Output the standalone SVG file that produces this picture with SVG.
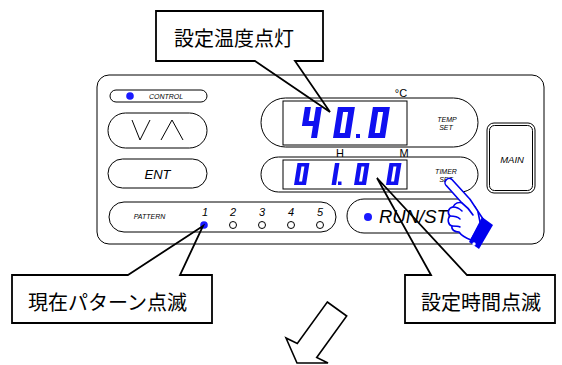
<svg xmlns="http://www.w3.org/2000/svg" xmlns:xlink="http://www.w3.org/1999/xlink" width="562" height="365" viewBox="0 0 562 365">
  <style>
    .ln { fill: none; stroke: #000; stroke-width: 1; }
    .pill { fill: #fff; stroke: #000; stroke-width: 1; }
    .lbl { font-family: "Liberation Sans", Arial, sans-serif; font-style: italic; fill: #000; }
    .plain { font-family: "Liberation Sans", Arial, sans-serif; fill: #000; }
    .jp { font-family: "Noto Sans CJK JP", "Noto Sans", sans-serif; font-size: 20px; fill: #000; }
    .seg { fill: #1010f0; }
    .led { fill: #1a1aff; }
    .callout { fill: none; stroke: #000; stroke-width: 1.8; stroke-linejoin: miter; }
    .hand { fill: #fff; stroke: #0000ee; stroke-width: 1.6; stroke-linejoin: round; stroke-linecap: round; }
  </style>
  <defs>
    <!-- large seven-segment glyphs, origin at bottom-left -->
    <path id="big0" class="seg" fill-rule="evenodd" d="M0,-31H17V0H0Z M6,-26V-5H11V-26Z"/>
    <path id="big4" class="seg" d="M0,-31H6V-14H0Z M0,-17H17V-12H0Z M11,-31H17V0H11Z"/>
    <!-- small seven-segment glyphs -->
    <path id="sm0" class="seg" fill-rule="evenodd" d="M0,-22H12V0H0Z M4.5,-18.5V-3.5H7.5V-18.5Z"/>
    <path id="sm1" class="seg" d="M7.5,-22H12V0H7.5Z"/>
  </defs>

  <rect width="562" height="365" fill="#fff"/>

  <!-- front panel -->
  <g id="panel">
    <rect class="pill" x="97" y="75" width="447" height="169" rx="12"/>
  </g>

  <g id="control">
    <rect class="pill" x="110" y="90" width="97" height="12" rx="6"/>
    <circle class="led" cx="130" cy="96" r="3.8"/>
    <text class="lbl" x="166" y="99" font-size="7" text-anchor="middle">CONTROL</text>
  </g>

  <g id="updown">
    <rect class="pill" x="108" y="113" width="99" height="35" rx="17.5"/>
    <polyline class="ln" stroke-width="1.3" points="132,120 140,140 150,120"/>
    <polyline class="ln" stroke-width="1.3" points="161,140 172,120 183,140"/>
  </g>

  <g id="ent">
    <rect class="pill" x="108" y="159" width="99" height="29" rx="14.5"/>
    <text class="lbl" x="157.5" y="179" font-size="13" text-anchor="middle">ENT</text>
  </g>

  <g id="pattern">
    <rect class="pill" x="109" y="202" width="227" height="30" rx="15"/>
    <text class="lbl" x="149.5" y="219" font-size="7" text-anchor="middle">PATTERN</text>
    <g class="lbl" font-size="11" text-anchor="middle">
      <text x="205" y="216">1</text>
      <text x="233" y="216">2</text>
      <text x="262" y="216">3</text>
      <text x="291" y="216">4</text>
      <text x="320" y="216">5</text>
    </g>
    <circle class="led" cx="204" cy="225" r="3.8"/>
    <circle class="pill" cx="233" cy="225" r="3.5"/>
    <circle class="pill" cx="262" cy="225" r="3.5"/>
    <circle class="pill" cx="291" cy="225" r="3.5"/>
    <circle class="pill" cx="320" cy="225" r="3.5"/>
  </g>

  <g id="temp-display">
    <rect class="pill" x="261" y="98" width="217" height="49" rx="24.5"/>
    <rect class="pill" x="283" y="101" width="124" height="44" stroke-width="1.2"/>
    <use href="#big4" transform="translate(300,138) skewX(-9)"/>
    <use href="#big0" transform="translate(333,138) skewX(-9)"/>
    <rect class="seg" x="356" y="134" width="4" height="4"/>
    <use href="#big0" transform="translate(368,138) skewX(-9)"/>
    <text class="plain" x="401" y="97" font-size="11" text-anchor="middle">°C</text>
    <text class="lbl" x="447" y="121.5" font-size="7" text-anchor="middle">TEMP</text>
    <text class="lbl" x="446" y="129.5" font-size="7" text-anchor="middle">SET</text>
  </g>

  <g id="timer-display">
    <rect class="pill" x="261" y="157" width="217" height="35" rx="17.5"/>
    <rect class="pill" x="283" y="160" width="124" height="29" stroke-width="1.2"/>
    <use href="#sm0" transform="translate(294,185) skewX(-9)"/>
    <use href="#sm1" transform="translate(324,185) skewX(-9)"/>
    <rect class="seg" x="338" y="181.5" width="3.5" height="3.5"/>
    <use href="#sm0" transform="translate(354,185) skewX(-9)"/>
    <use href="#sm0" transform="translate(386,185) skewX(-9)"/>
    <text class="plain" x="340" y="157" font-size="11" text-anchor="middle">H</text>
    <text class="plain" x="404" y="157" font-size="11" text-anchor="middle">M</text>
    <text class="lbl" x="446" y="173.5" font-size="7" text-anchor="middle">TIMER</text>
    <text class="lbl" x="446" y="181.5" font-size="7" text-anchor="middle">SET</text>
  </g>

  <g id="main">
    <rect class="pill" x="487" y="123" width="48" height="70" rx="7"/>
    <rect class="pill" x="489.5" y="125.5" width="43" height="65" rx="5"/>
    <text class="lbl" x="512" y="163" font-size="9.5" text-anchor="middle">MAIN</text>
  </g>

  <g id="runstop">
    <rect class="pill" x="347" y="199" width="131" height="34" rx="17"/>
    <circle class="led" cx="368" cy="217" r="4"/>
    <text class="lbl" x="379" y="223" font-size="18.5">RUN/STOP</text>
  </g>

  <!-- pointing hand pressing TIMER SET -->
  <g id="hand">
    <path class="hand" d="M461.7,202.7 L446.7,186 A3.6,3.6 0 0 1 451.7,179.3 L470,199.3 L483,219 L471,240 C466,238 461,235 459,232 C455,232 451,230 452,226 C448,225 447,219 450,216 C447,213 448,208 453,207 C455,203 459,202 461.7,202.7 Z"/>
    <path class="hand" fill="none" d="M453,207 C457,207 460,209 462,211 M450,216 C454,216 458,217 460,219 M452,226 C455,226 458,226 460,227 M462,203 C466,206 470,210 473,215 M478,212 L480,222"/>
    <polygon fill="#0000ee" points="482,217 493,225 479,249 469,242"/>
    <circle cx="474" cy="244" r="1.7" fill="#fff"/>
  </g>

  <!-- callouts -->
  <g id="connectors">
    <g id="callout-temp">
      <rect x="156" y="11" width="167" height="50" fill="#fff"/>
      <path class="callout" d="M255,61 L330,112 L295,61 H323 V11 H156 V61 Z"/>
      <text class="jp" x="174" y="46" font-size="21">設定温度点灯</text>
    </g>
    <g id="callout-pattern">
      <rect x="12" y="275" width="200" height="48" fill="#fff"/>
      <path class="callout" d="M128,275 L203,226 L180,275 H212 V323 H12 V275 Z"/>
      <text class="jp" x="28" y="310">現在パターン点滅</text>
    </g>
    <g id="callout-time">
      <rect x="405" y="275" width="150" height="48" fill="#fff"/>
      <path class="callout" d="M431,275 L377,178 L467,275 H555 V323 H405 V275 Z"/>
      <text class="jp" x="421" y="310">設定時間点滅</text>
    </g>
  </g>

  <!-- hollow arrow pointing down-left -->
  <g id="arrow">
    <polygon fill="#fff" stroke="#000" stroke-width="1.6" stroke-linejoin="miter" points="327.3,302 346.7,316 316.7,357.5 328,363 297,363 286,338 297.3,343.5"/>
  </g>
</svg>
